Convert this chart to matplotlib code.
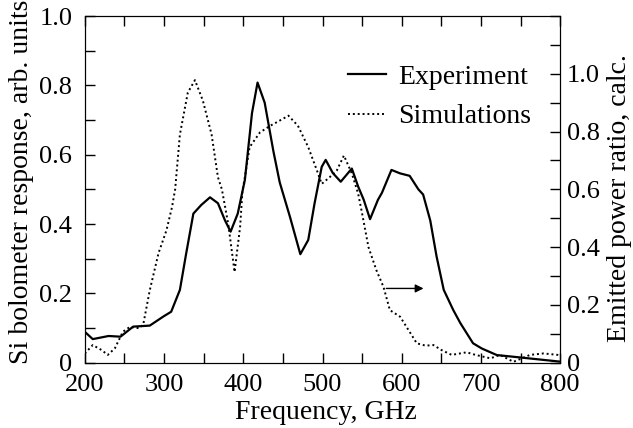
import matplotlib
matplotlib.use('Agg')
import matplotlib.pyplot as plt
from matplotlib.ticker import MultipleLocator

plt.rcParams['font.family'] = ['Liberation Serif', 'DejaVu Serif']

# measured response (left axis)
exp_freq = [200, 210, 230, 245, 261, 282, 299, 309, 320, 328, 337, 347, 358, 368,
            377, 384, 393, 402, 411, 418, 427, 438, 446, 459, 472, 482, 490, 499,
            504, 513, 523, 537, 545, 552, 560, 570, 575, 587, 598, 610, 621, 627,
            636, 644, 653, 665, 674, 690, 701, 720, 750, 779, 800]
exp_resp = [0.089, 0.068, 0.077, 0.075, 0.104, 0.107, 0.133, 0.147, 0.21, 0.316,
            0.43, 0.455, 0.477, 0.46, 0.41, 0.378, 0.43, 0.527, 0.72, 0.808, 0.75,
            0.61, 0.52, 0.42, 0.313, 0.354, 0.46, 0.565, 0.585, 0.547, 0.522, 0.56,
            0.508, 0.47, 0.414, 0.47, 0.49, 0.556, 0.546, 0.539, 0.5, 0.485, 0.41,
            0.306, 0.21, 0.152, 0.114, 0.056, 0.041, 0.022, 0.015, 0.008, 0.003]

# simulated emitted power ratio (right axis)
sim_freq = [200, 210, 221, 229, 238, 248, 257, 269, 274, 282, 293, 303, 310, 314,
            320, 330, 339, 349, 360, 368, 373, 381, 389, 396, 399, 402, 408, 421,
            434, 446, 457, 469, 482, 493, 499, 509, 518, 527, 537, 545, 550, 558,
            568, 577, 585, 598, 606, 619, 630, 640, 650, 663, 682, 693, 712, 724,
            741, 762, 779, 797, 800]
sim_ratio = [0.032, 0.061, 0.044, 0.027, 0.05, 0.107, 0.124, 0.119, 0.136, 0.251,
             0.379, 0.458, 0.538, 0.6, 0.79, 0.935, 0.978, 0.907, 0.79, 0.642, 0.6,
             0.48, 0.314, 0.47, 0.596, 0.642, 0.746, 0.797, 0.82, 0.838, 0.855,
             0.82, 0.746, 0.665, 0.619, 0.642, 0.665, 0.717, 0.655, 0.585, 0.516,
             0.40, 0.32, 0.262, 0.182, 0.159, 0.124, 0.067, 0.059, 0.061, 0.044,
             0.027, 0.036, 0.027, 0.015, 0.027, 0.003, 0.027, 0.032, 0.027, 0.025]

fs_tick = 19
fs_label = 20

fig = plt.figure(figsize=(6.33, 4.28), dpi=100)
ax1 = fig.add_axes([0.134, 0.1526, 0.751, 0.81])
ax2 = ax1.twinx()

dotted = (0, (1, 1.5))
ax1.plot(exp_freq, exp_resp, color='black', linewidth=1.6, label='Experiment')
ax2.plot(sim_freq, sim_ratio, color='black', linewidth=1.4, linestyle=dotted)
# legend entry for the right-axis curve
ax1.plot([], [], color='black', linewidth=1.4, linestyle=dotted, label='Simulations')

ax1.set_xlim(200, 800)
ax1.set_ylim(0, 1.0)
ax2.set_ylim(0, 1.2)

ax1.xaxis.set_major_locator(MultipleLocator(100))
ax1.xaxis.set_minor_locator(MultipleLocator(50))
ax1.yaxis.set_major_locator(MultipleLocator(0.2))
ax1.yaxis.set_minor_locator(MultipleLocator(0.1))
ax2.yaxis.set_minor_locator(MultipleLocator(0.1))
ax2.set_yticks([0, 0.2, 0.4, 0.6, 0.8, 1.0])

fmt = plt.FuncFormatter(lambda v, p: '0' if abs(v) < 1e-9 else f'{v:.1f}')
ax1.yaxis.set_major_formatter(fmt)
ax2.yaxis.set_major_formatter(fmt)

ax1.tick_params(axis='x', which='both', direction='in', top=True, length=7, width=1,
                labelsize=fs_tick, pad=8)
ax1.tick_params(axis='y', which='both', direction='in', length=7, width=1,
                labelsize=fs_tick, pad=9)
ax2.tick_params(axis='y', which='both', direction='in', length=7, width=1,
                labelsize=fs_tick, pad=5)

ax1.set_xlabel('Frequency, GHz', fontsize=fs_label)
ax1.xaxis.set_label_coords(0.507, -0.107)
ax1.set_ylabel('Si bolometer response, arb. units', fontsize=fs_label)
ax1.yaxis.set_label_coords(-0.107, 0.522)
ax2.set_ylabel('Emitted power ratio, calc.', fontsize=fs_label)
ax2.yaxis.set_label_coords(1.098, 0.474)

ax2.annotate('', xy=(631, 0.257), xytext=(577, 0.257),
             arrowprops=dict(arrowstyle='-|>', color='black', lw=1, mutation_scale=12))

handles, labels = ax1.get_legend_handles_labels()
fig.legend(handles, labels, loc='upper right', bbox_to_anchor=(0.8388, 0.850),
           frameon=False, fontsize=fs_label, handlelength=1.37, handletextpad=0.43,
           labelspacing=0.51, borderaxespad=0, borderpad=0)

fig.savefig('out.png', dpi=100)
